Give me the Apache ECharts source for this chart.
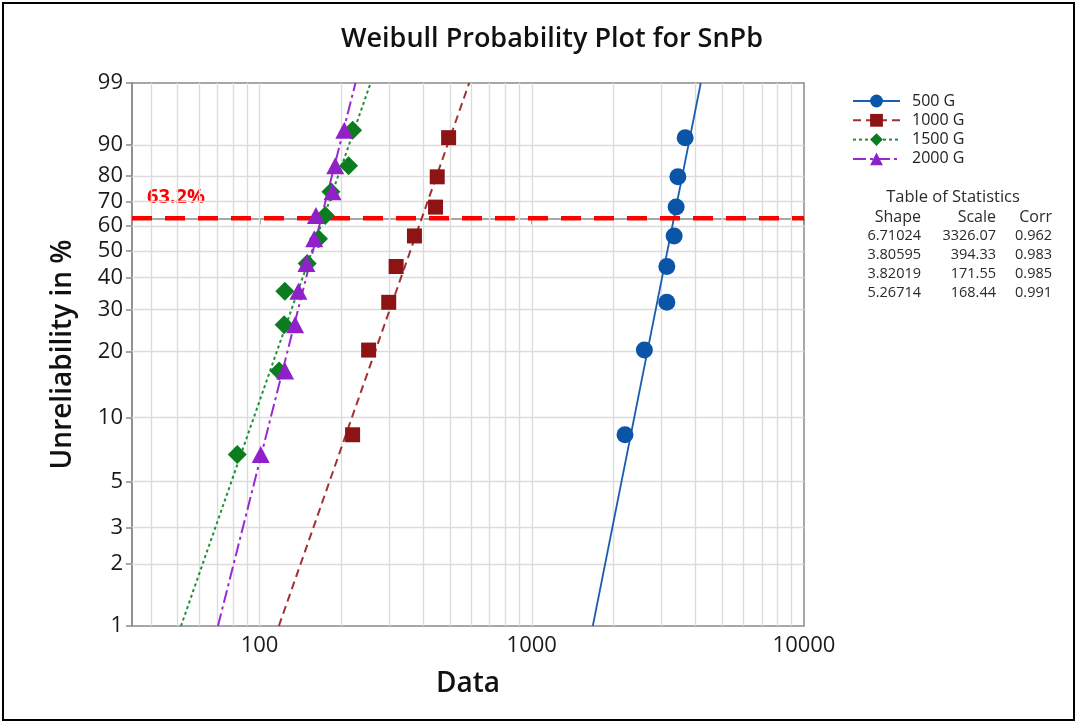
<!DOCTYPE html>
<html>
<head>
<meta charset="utf-8">
<script src="https://cdn.jsdelivr.net/npm/echarts@6/dist/echarts.min.js"></script>
<style>
  html, body { margin: 0; padding: 0; background: #ffffff; }
  #chart { width: 1078px; height: 724px; }
</style>
</head>
<body>
<div id="chart"></div>
<script>
// ---- data ----
const groups = ['500 G', '1000 G', '1500 G', '2000 G'];
const shape = [6.71024, 3.80595, 3.82019, 5.26714];
const scale = [3326.07, 394.33, 171.55, 168.44];
const corr = [0.962, 0.983, 0.985, 0.991];

// failure times, sorted, per group
const t500 = [2200, 2592, 3134, 3134, 3334, 3391, 3441, 3660];
const t1000 = [219.7, 251.6, 298.2, 317.5, 370.7, 443.1, 449.5, 494.9];
const t1500 = [82.8, 118.0, 123.1, 123.8, 149.6, 164.7, 174.3, 182.9, 212.3, 219.7];
const t2000 = [101.0, 124.1, 135.1, 138.9, 148.7, 158.8, 161.1, 185.4, 189.7, 204.8];

// plotting positions (median ranks) in %
const rank8 = [8.33, 20.24, 32.14, 44.05, 55.95, 67.86, 79.76, 91.67];
const rank10 = [6.73, 16.35, 25.96, 35.58, 45.19, 54.81, 64.42, 74.04, 83.65, 93.27];

// axis ticks / grid
const yTicks = [1, 2, 3, 5, 10, 20, 30, 40, 50, 60, 70, 80, 90, 99];
const xGrid = [40, 50, 60, 70, 80, 90, 100, 200, 300, 400, 500, 600, 700, 800, 900,
               1000, 2000, 3000, 4000, 5000, 6000, 7000, 8000, 9000];
const xRange = [34, 10000];
const yRange = [1, 99];
const refLevel = 63.2;

// ---- styling ----
const FONT = "'Open Sans', 'Noto Sans', sans-serif";
const markerColors = ['#0a55a8', '#8c1414', '#0b7d20', '#9020c8'];
const lineColors = ['#1a5fae', '#a33030', '#1f8f33', '#9a2ad0'];
const lineTypes = ['solid', [8, 5], [3, 3], [13, 4, 3, 4]];
const symbols = ['circle', 'rect', 'diamond', 'triangle'];
const symbolSizes = [17, 15, 19, [18, 17]];

// Weibull probability scale: w = ln(-ln(1 - F))
const W = p => Math.log(-Math.log(1 - p / 100));
const invW = v => 100 * (1 - Math.exp(-Math.exp(v)));

const times = [t500, t1000, t1500, t2000];
const ranks = [rank8, rank8, rank10, rank10];

// fitted Weibull line: time at a given unreliability
const fitTime = (k, p) => scale[k] * Math.pow(-Math.log(1 - p / 100), 1 / shape[k]);

const series = [];

// grid lines
series.push({
  name: 'grid', type: 'line', data: [], z: 1, silent: true,
  markLine: {
    silent: true, symbol: 'none', animation: false, z: 1,
    label: { show: false },
    lineStyle: { color: '#dcdcdc', width: 1.4, type: 'solid' },
    data: xGrid.map(v => ({ xAxis: v })).concat(yTicks.slice(1, -1).map(p => ({ yAxis: W(p) })))
  }
});

// fitted lines
groups.forEach((g, k) => {
  series.push({
    name: g, type: 'line', z: 2,
    symbol: symbols[k], showSymbol: false,
    itemStyle: { color: markerColors[k] },
    lineStyle: { color: lineColors[k], width: k === 0 ? 1.8 : 2, type: lineTypes[k] },
    data: [[fitTime(k, yRange[0]), W(yRange[0])], [fitTime(k, yRange[1]), W(yRange[1])]],
    animation: false
  });
});

// 63.2 % reference line across the full data range
series.push({
  name: 'ref', type: 'line', z: 3, silent: true,
  symbol: 'none', showSymbol: false,
  lineStyle: { color: '#ff0000', width: 4.5, type: [20, 13] },
  data: [[xRange[0], W(refLevel)], [xRange[1], W(refLevel)]],
  animation: false
});

// data points
groups.forEach((g, k) => {
  series.push({
    name: g, type: 'scatter', z: 4,
    symbol: symbols[k], symbolSize: symbolSizes[k],
    itemStyle: { color: markerColors[k], opacity: 1 },
    data: times[k].map((t, i) => [t, W(ranks[k][i])]),
    animation: false
  });
});

// statistics table
const tableX = { shape: 921, scale: 996, corr: 1052 };
const tableTop = 217;
const rowH = 19;
const textColor = '#2a2a2a';
const cell = (x, y, text, size, align) => ({
  type: 'text', x: x, y: y,
  style: { text: text, fill: textColor, font: size + 'px ' + FONT, textAlign: align, textVerticalAlign: 'middle' }
});
const graphics = [
  { type: 'rect', shape: { x: 3, y: 3, width: 1071, height: 717 },
    style: { fill: 'none', stroke: '#000000', lineWidth: 2 }, silent: true },
  cell(953, 197, 'Table of Statistics', 16.5, 'center'),
  cell(tableX.shape, tableTop, 'Shape', 16, 'right'),
  cell(tableX.scale, tableTop, 'Scale', 16, 'right'),
  cell(tableX.corr, tableTop, 'Corr', 16, 'right'),
  { type: 'text', x: 147, y: 197,
    style: { text: refLevel.toFixed(1) + '%', fill: '#ff0000', font: 'bold 20px ' + FONT,
             textAlign: 'left', textVerticalAlign: 'middle' } }
];
groups.forEach((g, k) => {
  const y = tableTop + rowH * (k + 1);
  graphics.push(
    cell(tableX.shape, y, shape[k].toFixed(5), 14.5, 'right'),
    cell(tableX.scale, y, scale[k].toFixed(2), 14.5, 'right'),
    cell(tableX.corr, y, corr[k].toFixed(3), 14.5, 'right')
  );
});

const axisGray = '#8a8a8a';
const chart = echarts.init(document.getElementById('chart'), null, { renderer: 'canvas' });
chart.setOption({
  animation: false,
  backgroundColor: '#ffffff',
  textStyle: { fontFamily: FONT },
  title: {
    text: 'Weibull Probability Plot for SnPb',
    left: 547, top: 21, textAlign: 'center',
    textStyle: { fontSize: 27, fontWeight: 600, color: '#111', fontFamily: FONT }
  },
  legend: {
    data: groups,
    orient: 'vertical', left: 852, top: 93, padding: 0,
    itemWidth: 47, itemHeight: 16, itemGap: 3.3,
    selectedMode: false,
    textStyle: { fontSize: 16, color: '#222', fontFamily: FONT, padding: [0, 0, 0, 7] }
  },
  grid: {
    left: 132, top: 83, width: 672, height: 543,
    show: true, borderColor: axisGray, borderWidth: 1.5, backgroundColor: 'transparent'
  },
  xAxis: {
    type: 'log', logBase: 10, min: xRange[0], max: xRange[1],
    name: 'Data', nameLocation: 'middle', nameGap: 44,
    nameTextStyle: { fontSize: 28, fontWeight: 600, color: '#111', fontFamily: FONT },
    axisLine: { show: true, lineStyle: { color: axisGray, width: 1.5 } },
    axisTick: { show: true, length: 6, lineStyle: { color: axisGray, width: 1.5 } },
    splitLine: { show: false },
    minorTick: { show: false },
    axisLabel: {
      fontSize: 22, fontWeight: 500, color: '#1a1a1a', margin: 9, fontFamily: FONT, showMinLabel: false,
      formatter: v => {
        const l = Math.log10(v);
        return Math.abs(l - Math.round(l)) < 1e-6 ? String(Math.round(v)) : '';
      }
    }
  },
  yAxis: {
    type: 'value', min: W(yRange[0]), max: W(yRange[1]),
    name: 'Unreliability in %', nameLocation: 'middle', nameGap: 55,
    nameTextStyle: { fontSize: 28, fontWeight: 600, color: '#111', fontFamily: FONT },
    axisLine: { show: true, lineStyle: { color: axisGray, width: 1.5 } },
    axisTick: { show: true, length: 6, customValues: yTicks.map(W), lineStyle: { color: axisGray, width: 1.5 } },
    splitLine: { show: false },
    axisLabel: {
      fontSize: 22, fontWeight: 500, color: '#1a1a1a', margin: 9, fontFamily: FONT,
      customValues: yTicks.map(W),
      formatter: v => String(Math.round(invW(v)))
    }
  },
  graphic: graphics,
  series: series
});
</script>
</body>
</html>
